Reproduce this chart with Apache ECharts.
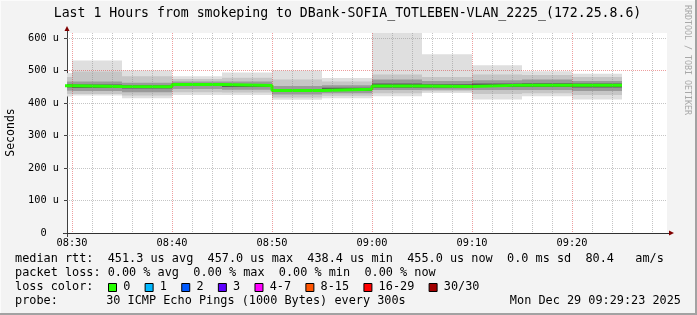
<!DOCTYPE html>
<html><head><meta charset="utf-8">
<script src="https://cdn.jsdelivr.net/npm/echarts@6/dist/echarts.min.js"></script>
<style>html,body{margin:0;padding:0;background:#f3f3f3}#c{width:697px;height:315px}</style>
</head><body><div id="c"></div>
<script>
// ---- data ----
const binStarts = ['08:25','08:30','08:35','08:40','08:45','08:50','08:55','09:00','09:05','09:10','09:15','09:20'];
const median    = [453, 451, 450, 457, 454, 438.4, 442, 452, 451, 455, 455, 455];
const smokeMax  = [492, 531, 500, 482, 494, 500, 477, 640, 550, 516, 498, 490];
const smokeP90  = [480, 497, 482, 474, 478, 472, 466, 488, 480, 488, 486, 480];
const smokeP75  = [466, 466, 462, 466, 466, 452, 455, 472, 468, 470, 472, 468];
const smokeP60  = [458, 457, 455, 461, 458, 443, 447, 460, 458, 460, 461, 460];
const smokeP40  = [448, 446, 445, 452, 449, 434, 437, 447, 447, 449, 449, 448];
const smokeP25  = [438, 437, 433, 443, 441, 426, 430, 440, 441, 440, 440, 437];
const smokeP10  = [428, 428, 423, 433, 432, 417, 422, 430, 436, 428, 430, 425];
const smokeMin  = [420, 423, 415, 425, 425, 410, 415, 421, 431, 411, 421, 411];
const xTickLabels = ['08:30','08:40','08:50','09:00','09:10','09:20'];
const yTickValues = [0, 100, 200, 300, 400, 500, 600];
const yTickLabels = ['0  ','100 u','200 u','300 u','400 u','500 u','600 u'];
const titleText = 'Last 1 Hours from smokeping to DBank-SOFIA_TOTLEBEN-VLAN_2225_(172.25.8.6)';
const rttRow   = 'median rtt:  451.3 us avg  457.0 us max  438.4 us min  455.0 us now  0.0 ms sd  80.4   am/s';
const lossRow  = 'packet loss: 0.00 % avg  0.00 % max  0.00 % min  0.00 % now';
const lossLabels = ['0','1','2','3','4-7','8-15','16-29','30/30'];
const lossColors = ['#26ff00','#00b8ff','#0059ff','#5e00ff','#ff00ff','#ff5500','#ff0000','#a10000'];
const probeLabel = 'probe:';
const probeText = '30 ICMP Echo Pings (1000 Bytes) every 300s';
const dateText = 'Mon Dec 29 09:29:23 2025';

// ---- helpers ----
const toMin = s => { const p = s.split(':').map(Number); return p[0]*60 + p[1]; };
const BIN = 5;
const xs = binStarts.map(toMin);
const viewStart = toMin(xTickLabels[0]) - 0.5;
const viewEnd = viewStart + 60;
const FONT = 'DejaVu Sans Mono';

function smokeSeries(low, high, color) {
  return {
    type: 'custom', xAxisIndex: 0, yAxisIndex: 0, silent: true,
    encode: { x: [0, 1], y: [2, 3] },
    data: xs.map((x, i) => [x, x + BIN, low[i], high[i]]),
    renderItem: function (params, api) {
      const a = api.coord([api.value(0), api.value(3)]);
      const b = api.coord([api.value(1), api.value(2)]);
      const cs = params.coordSys;
      const r = echarts.graphic.clipRectByRect(
        { x: a[0], y: a[1], width: b[0] - a[0], height: b[1] - a[1] },
        { x: cs.x, y: cs.y, width: cs.width, height: cs.height });
      return r ? { type: 'rect', shape: r, style: { fill: color } } : null;
    }
  };
}

const medianData = xs.map((x, i) => [x, median[i]]);
medianData.push([xs[xs.length - 1] + BIN, median[median.length - 1]]);

const txt = (text, x, y, size, extra, rot) => ({ type: 'text', x: x, y: y, rotation: rot || 0,
  style: Object.assign({ text: text, fontFamily: FONT, fontSize: size, fill: '#000', align: 'left', verticalAlign: 'middle' }, extra || {}) });

// legend (loss color) graphics
const CW = 7.14;
const legendG = [];
let bx = 108;
lossLabels.forEach((lab, i) => {
  legendG.push({ type: 'rect', shape: { x: bx + 0.5, y: 283.5, width: 8, height: 8 },
    style: { fill: lossColors[i], stroke: '#000', lineWidth: 1 } });
  const lx = bx + 15.2;
  legendG.push(txt(lab, lx, 287.3, 11.85));
  bx = lx + lab.length * CW + 2 * CW;
});

const GRID_MINOR = 'rgba(140,140,140,0.5)';
const GRID_MAJOR = 'rgba(215,40,40,0.45)';

const chart = echarts.init(document.getElementById('c'), null, { renderer: 'canvas' });
chart.setOption({
  animation: false,
  backgroundColor: '#f3f3f3',
  grid: [
    { left: 67, top: 33, width: 600, height: 200, show: true, backgroundColor: '#ffffff', borderWidth: 0 },
    { left: 67, top: 38, width: 600, height: 195 },
    { left: 72, top: 33, width: 600, height: 200 }
  ],
  xAxis: [
    { gridIndex: 0, type: 'value', min: viewStart, max: viewEnd,
      axisLine: { show: true, onZero: false, lineStyle: { color: '#303030', width: 1 } },
      axisTick: { show: false }, axisLabel: { show: false }, splitLine: { show: false } },
    { gridIndex: 1, type: 'value', min: viewStart, max: viewEnd, show: false },
    { gridIndex: 2, type: 'value', min: toMin(xTickLabels[0]), max: toMin(xTickLabels[0]) + 60, interval: 2, z: 5,
      axisLine: { show: false }, axisTick: { show: false },
      axisLabel: { show: true, margin: 4, fontFamily: FONT, fontSize: 10.3, color: '#000', lineHeight: 12,
        showMaxLabel: false,
        formatter: v => { const m = Math.round(v); const l = xTickLabels.find(s => toMin(s) === m); return l || ''; } },
      splitLine: { show: true, showMaxLine: false,
        lineStyle: { type: [1, 1], width: 1,
          color: [GRID_MAJOR, GRID_MINOR, GRID_MINOR, GRID_MINOR, GRID_MINOR] } } }
  ],
  yAxis: [
    { gridIndex: 0, type: 'value', min: 0, max: 200 / 0.325,
      axisLine: { show: true, onZero: false, lineStyle: { color: '#404040', width: 1 } },
      axisTick: { show: false }, axisLabel: { show: false }, splitLine: { show: false } },
    { gridIndex: 1, type: 'value', min: 0, max: 600, interval: 20, z: 5,
      axisLine: { show: false },
      axisTick: { show: true, customValues: yTickValues, length: 3, lineStyle: { color: '#404040' } },
      axisLabel: { show: true, margin: 8, fontFamily: FONT, fontSize: 10.3, color: '#000',
        formatter: v => { const i = yTickValues.indexOf(Math.round(v)); return i >= 0 ? yTickLabels[i] : ''; } },
      splitLine: { show: true, showMinLine: false,
        lineStyle: { type: [1, 1], width: 1,
          color: [GRID_MINOR, GRID_MINOR, GRID_MINOR, GRID_MINOR, GRID_MAJOR] } } },
    { gridIndex: 2, type: 'value', min: 0, max: 1, show: false }
  ],
  series: [
    smokeSeries(smokeMin, smokeMax, '#dfdfdf'),
    smokeSeries(smokeP10, smokeP90, '#c6c6c6'),
    smokeSeries(smokeP25, smokeP75, '#9a9a9a'),
    smokeSeries(smokeP40, smokeP60, '#5a5a5a'),
    { type: 'line', xAxisIndex: 0, yAxisIndex: 0, step: 'end', symbol: 'none', silent: true, clip: true,
      data: medianData, lineStyle: { color: '#26ff00', width: 3 }, z: 3 }
  ],
  graphic: [
    // frame shading
    { type: 'rect', shape: { x: 0, y: 0, width: 697, height: 1 }, style: { fill: '#fbfbfb' } },
    { type: 'rect', shape: { x: 0, y: 0, width: 1, height: 315 }, style: { fill: '#fbfbfb' } },
    { type: 'rect', shape: { x: 695, y: 0, width: 2, height: 315 }, style: { fill: '#a2a2a2' } },
    { type: 'rect', shape: { x: 0, y: 313, width: 697, height: 2 }, style: { fill: '#a2a2a2' } },
    txt(titleText, 347.5, 14, 13.2, { align: 'center' }),
    txt('Seconds', 10.8, 132.5, 11.5, { align: 'center' }, Math.PI / 2),
    txt('RRDTOOL / TOBI OETIKER', 687, 60, 8.3, { align: 'center', fill: '#a8a8a8' }, -Math.PI / 2),
    txt(rttRow, 15, 259.3, 11.85),
    txt(lossRow, 15, 273.3, 11.85),
    txt('loss color:', 15, 287.3, 11.85),
    txt(probeLabel, 15, 301, 11.85),
    txt(probeText, 106.2, 301, 11.85),
    txt(dateText, 681, 301, 11.85, { align: 'right' }),
    // axis arrows and stubs
    { type: 'polygon', shape: { points: [[64.5, 31], [69.5, 31], [67, 26]] }, style: { fill: '#800000' } },
    { type: 'polygon', shape: { points: [[669, 230.5], [669, 235.5], [674, 233]] }, style: { fill: '#800000' } },
    { type: 'line', shape: { x1: 667, y1: 233.5, x2: 669, y2: 233.5 }, style: { stroke: '#303030', lineWidth: 1 } },
    { type: 'line', shape: { x1: 63, y1: 233.5, x2: 67, y2: 233.5 }, style: { stroke: '#303030', lineWidth: 1 } },
    { type: 'line', shape: { x1: 67.5, y1: 233, x2: 67.5, y2: 237 }, style: { stroke: '#404040', lineWidth: 1 } },
    { type: 'line', shape: { x1: 67.5, y1: 33, x2: 67.5, y2: 31 }, style: { stroke: '#404040', lineWidth: 1 } }
  ].concat(legendG)
});
</script>
</body></html>
